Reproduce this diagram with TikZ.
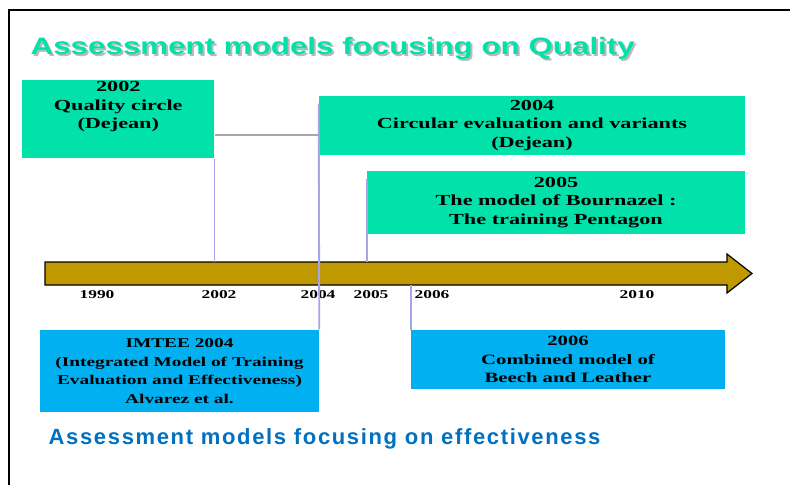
\documentclass[tikz,border=0pt]{standalone}
\usepackage{fontspec}
\usepackage{tikz}
\usetikzlibrary{positioning}
\setmainfont{Liberation Serif}
\newfontfamily\boxfont[FakeStretch=1.45]{Liberation Serif}
\newfontfamily\headfont[FakeStretch=1.32]{Liberation Sans}
\newfontfamily\footfont[LetterSpace=7.5]{Liberation Sans}
\definecolor{qgreen}{RGB}{0,226,170}
\definecolor{egblue}{RGB}{0,176,240}
\definecolor{axgold}{RGB}{192,152,0}
\definecolor{tickline}{RGB}{165,165,235}
\definecolor{footblue}{RGB}{0,112,192}

\begin{document}
\begin{tikzpicture}[x=0.75pt,y=-0.75pt,
    qbox/.style={fill=qgreen,inner sep=0pt,align=center,
      font=\boxfont\bfseries\fontsize{11.5}{13.9}\selectfont},
    ebox/.style={qbox,fill=egblue},
    yr/.style={anchor=base,font=\boxfont\bfseries\fontsize{9}{10}\selectfont},
    head/.style={anchor=base west,font=\headfont\bfseries\fontsize{17.8}{20}\selectfont},
    link/.style={draw=tickline,line width=1.4pt},
    bar/.style={draw=gray!70,line width=1.3pt}]

    \useasboundingbox (0,0) rectangle (790,485);
    \draw[line width=1.3pt] (790,10) -- (9,10) -- (9,485);

    \node[head,text=gray!55] at (28,57) {Assessment models focusing on Quality};
    \node[head,text=qgreen] (qtitle) at (26,55) {Assessment models focusing on Quality};

    \fill[axgold,draw=black,line width=0.9pt] (45,262) -- (727,262) -- (727,254) -- (752,273.5)
        -- (727,293) -- (727,285) -- (45,285) -- cycle;
    \coordinate (axtop) at (45,262);
    \coordinate (axbot) at (45,285);

    \node[yr] (y1990) at (97,298) {1990};
    \node[yr] (y2002) at (219,298) {2002};
    \node[yr] (y2004) at (318,298) {2004};
    \node[yr] (y2005) at (371,298) {2005};
    \node[yr] (y2006) at (432,298) {2006};
    \node[yr] (y2010) at (637,298) {2010};

    \node[qbox,anchor=north west] (q2002) at (22,80)
        {\parbox[c][58.5pt][t]{144pt}{\centering\vspace{1pt}2002\\Quality circle\\(Dejean)}};
    \node[qbox,minimum width=319.5pt,minimum height=44.25pt] (q2004) at (532,125.5)
        {2004\\Circular evaluation and variants\\(Dejean)};
    \node[qbox,minimum width=283.5pt,minimum height=47.25pt] (q2005) at (556,202.5)
        {2005\\The model of Bournazel :\\The training Pentagon};
    \node[ebox,font=\boxfont\bfseries\fontsize{10}{13.9}\selectfont,
        minimum width=209.25pt,minimum height=61.5pt] (e2004) at (179.5,371)
        {IMTEE 2004\\(Integrated Model of Training\\Evaluation and Effectiveness)\\Alvarez et al.};
    \node[ebox,font=\boxfont\bfseries\fontsize{10.7}{13.9}\selectfont,
        minimum width=235.5pt,minimum height=44.25pt] (e2006) at (568,359.5)
        {2006\\Combined model of\\Beech and Leather};

    \coordinate (bend) at ([yshift=-12pt]q2002.east);
    \draw[bar] (bend) -- (bend -| q2004.west);
    \draw[link] (q2002.south east) -- (q2002.south east |- axtop);
    \draw[link] ([yshift=-6pt]q2004.north west) -- (e2004.north east);
    \draw[link] ([yshift=-6pt]q2005.north west) -- (q2005.north west |- axtop);
    \draw[link] (e2006.north west) -- (e2006.north west |- axbot);

    \node[anchor=base west,text=footblue,font=\footfont\bfseries\fontsize{16.5}{18}\selectfont]
        (etitle) at (44,444) {Assessment models focusing on effectiveness};
\end{tikzpicture}
\end{document}
